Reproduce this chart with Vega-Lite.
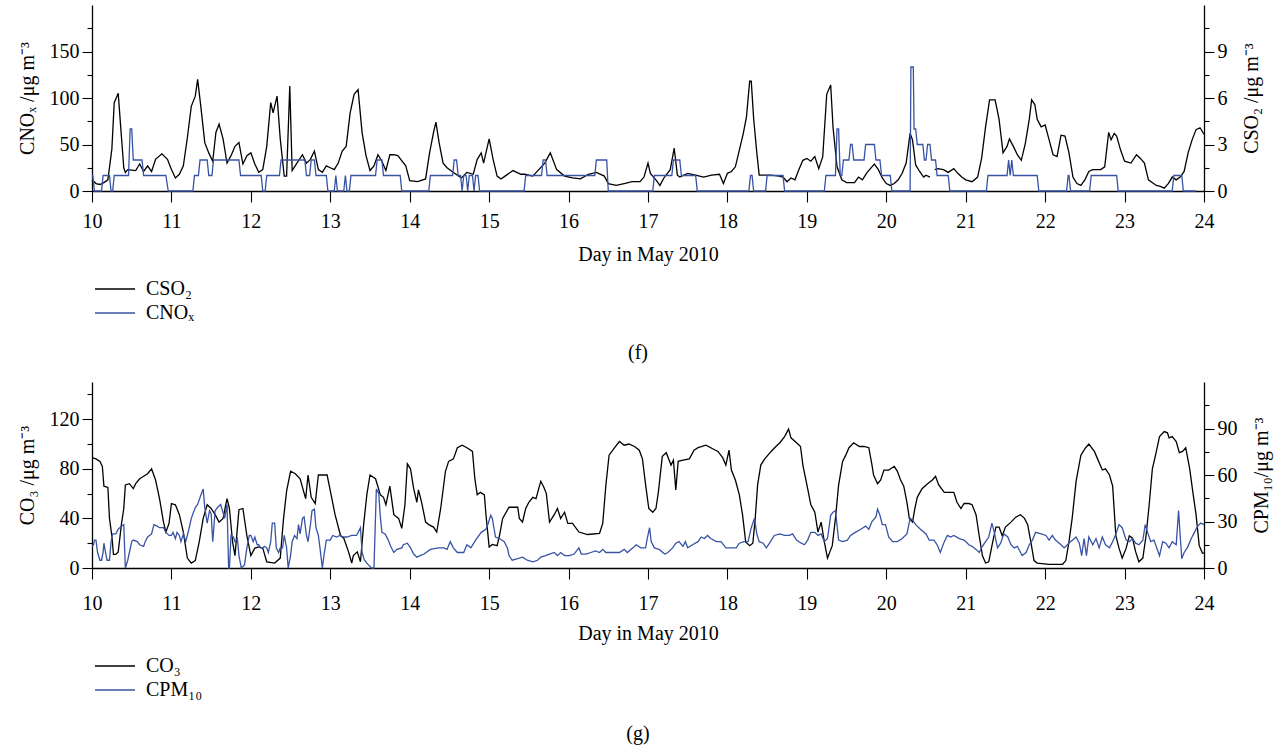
{
"$schema": "https://vega.github.io/schema/vega-lite/v6.json",
"padding": {"left": 17, "top": 5, "right": 5, "bottom": 5},
"background": "white",
"config": {
  "font": "Liberation Serif",
  "view": {"stroke": null},
  "axis": {"labelFont": "Liberation Serif", "labelFontSize": 20, "titleFont": "Liberation Serif", "titleFontSize": 20, "titleFontWeight": "normal", "labelColor": "#000", "titleColor": "#000", "domainColor": "#000", "tickColor": "#000", "grid": false, "domainWidth": 1.3, "tickWidth": 1.1, "labelFlush": false, "labelOverlap": false},
  "legend": {"orient": "none", "legendX": 12, "legendY": 273, "symbolType": "M-2,0L2,0", "symbolSize": 400, "symbolStrokeWidth": 1.3, "labelFont": "Liberation Serif", "labelFontSize": 20, "labelOffset": 20, "rowPadding": 3, "padding": 0, "labelColor": "#000"},
  "title": {"font": "Liberation Serif", "fontSize": 20, "fontWeight": "normal", "color": "#000"}
},
"datasets": {
"so2": [{"d":10,"v":12},{"d":10.05,"v":8},{"d":10.1,"v":7},{"d":10.15,"v":9},{"d":10.2,"v":12},{"d":10.25,"v":45},{"d":10.28,"v":95},{"d":10.33,"v":105},{"d":10.37,"v":59},{"d":10.4,"v":25},{"d":10.42,"v":20},{"d":10.45,"v":23},{"d":10.55,"v":22},{"d":10.6,"v":29},{"d":10.65,"v":21},{"d":10.7,"v":27},{"d":10.75,"v":21},{"d":10.8,"v":34},{"d":10.88,"v":40},{"d":10.95,"v":34},{"d":11,"v":23},{"d":11.05,"v":14},{"d":11.1,"v":18},{"d":11.15,"v":27},{"d":11.2,"v":57},{"d":11.25,"v":91},{"d":11.3,"v":102},{"d":11.33,"v":120},{"d":11.37,"v":91},{"d":11.42,"v":52},{"d":11.47,"v":41},{"d":11.52,"v":32},{"d":11.56,"v":63},{"d":11.6,"v":72},{"d":11.65,"v":56},{"d":11.7,"v":30},{"d":11.75,"v":38},{"d":11.8,"v":48},{"d":11.85,"v":52},{"d":11.9,"v":29},{"d":11.95,"v":38},{"d":12,"v":41},{"d":12.05,"v":29},{"d":12.1,"v":20},{"d":12.15,"v":23},{"d":12.2,"v":48},{"d":12.25,"v":95},{"d":12.28,"v":84},{"d":12.33,"v":102},{"d":12.37,"v":56},{"d":12.42,"v":16},{"d":12.45,"v":16},{"d":12.49,"v":113},{"d":12.52,"v":22},{"d":12.58,"v":30},{"d":12.65,"v":39},{"d":12.7,"v":30},{"d":12.75,"v":34},{"d":12.8,"v":43},{"d":12.85,"v":23},{"d":12.9,"v":20},{"d":12.95,"v":27},{"d":13,"v":25},{"d":13.05,"v":23},{"d":13.1,"v":30},{"d":13.15,"v":43},{"d":13.2,"v":48},{"d":13.25,"v":84},{"d":13.3,"v":104},{"d":13.35,"v":109},{"d":13.4,"v":63},{"d":13.45,"v":38},{"d":13.5,"v":22},{"d":13.55,"v":27},{"d":13.6,"v":39},{"d":13.65,"v":32},{"d":13.7,"v":22},{"d":13.75,"v":39},{"d":13.8,"v":39},{"d":13.85,"v":38},{"d":13.95,"v":27},{"d":14,"v":11},{"d":14.1,"v":10},{"d":14.2,"v":13},{"d":14.25,"v":41},{"d":14.3,"v":63},{"d":14.33,"v":74},{"d":14.37,"v":52},{"d":14.42,"v":30},{"d":14.47,"v":25},{"d":14.55,"v":20},{"d":14.65,"v":14},{"d":14.72,"v":20},{"d":14.8,"v":18},{"d":14.85,"v":34},{"d":14.9,"v":41},{"d":14.93,"v":30},{"d":15,"v":56},{"d":15.05,"v":34},{"d":15.1,"v":16},{"d":15.15,"v":13},{"d":15.2,"v":16},{"d":15.3,"v":22},{"d":15.4,"v":18},{"d":15.45,"v":18},{"d":15.55,"v":16},{"d":15.7,"v":30},{"d":15.77,"v":41},{"d":15.85,"v":23},{"d":15.95,"v":16},{"d":16.05,"v":14},{"d":16.15,"v":13},{"d":16.25,"v":18},{"d":16.35,"v":20},{"d":16.45,"v":16},{"d":16.5,"v":8},{"d":16.6,"v":6},{"d":16.7,"v":8},{"d":16.8,"v":10},{"d":16.9,"v":10},{"d":16.95,"v":15},{"d":17,"v":30},{"d":17.03,"v":19},{"d":17.1,"v":12},{"d":17.15,"v":6},{"d":17.2,"v":14},{"d":17.28,"v":23},{"d":17.33,"v":46},{"d":17.37,"v":17},{"d":17.4,"v":15},{"d":17.5,"v":19},{"d":17.6,"v":17},{"d":17.7,"v":15},{"d":17.8,"v":17},{"d":17.9,"v":18},{"d":17.95,"v":8},{"d":18,"v":19},{"d":18.05,"v":21},{"d":18.1,"v":26},{"d":18.15,"v":44},{"d":18.2,"v":62},{"d":18.24,"v":80},{"d":18.28,"v":118},{"d":18.3,"v":118},{"d":18.33,"v":78},{"d":18.37,"v":41},{"d":18.4,"v":17},{"d":18.55,"v":17},{"d":18.65,"v":16},{"d":18.7,"v":15},{"d":18.75,"v":10},{"d":18.8,"v":14},{"d":18.85,"v":12},{"d":18.9,"v":23},{"d":18.95,"v":33},{"d":19,"v":35},{"d":19.05,"v":32},{"d":19.1,"v":37},{"d":19.15,"v":24},{"d":19.2,"v":37},{"d":19.25,"v":104},{"d":19.3,"v":114},{"d":19.33,"v":68},{"d":19.38,"v":26},{"d":19.44,"v":12},{"d":19.5,"v":9},{"d":19.6,"v":9},{"d":19.65,"v":15},{"d":19.7,"v":12},{"d":19.75,"v":19},{"d":19.8,"v":24},{"d":19.85,"v":29},{"d":19.9,"v":23},{"d":19.95,"v":14},{"d":20,"v":8},{"d":20.05,"v":6},{"d":20.1,"v":8},{"d":20.15,"v":12},{"d":20.2,"v":19},{"d":20.25,"v":30},{"d":20.3,"v":62},{"d":20.33,"v":55},{"d":20.37,"v":28},{"d":20.42,"v":21},{"d":20.47,"v":15},{"d":20.5,"v":17},{"d":20.55,"v":15},{"d":20.58,"v":null},{"d":20.61,"v":23},{"d":20.65,"v":24},{"d":20.72,"v":23},{"d":20.78,"v":20},{"d":20.85,"v":24},{"d":20.9,"v":19},{"d":20.95,"v":15},{"d":21,"v":12},{"d":21.08,"v":10},{"d":21.15,"v":15},{"d":21.2,"v":35},{"d":21.25,"v":69},{"d":21.3,"v":98},{"d":21.37,"v":98},{"d":21.42,"v":77},{"d":21.47,"v":41},{"d":21.52,"v":48},{"d":21.55,"v":56},{"d":21.6,"v":48},{"d":21.65,"v":39},{"d":21.7,"v":33},{"d":21.75,"v":51},{"d":21.8,"v":77},{"d":21.83,"v":98},{"d":21.87,"v":93},{"d":21.9,"v":77},{"d":21.95,"v":69},{"d":22,"v":71},{"d":22.05,"v":55},{"d":22.1,"v":39},{"d":22.15,"v":37},{"d":22.2,"v":60},{"d":22.25,"v":59},{"d":22.3,"v":41},{"d":22.35,"v":15},{"d":22.4,"v":8},{"d":22.45,"v":6},{"d":22.5,"v":12},{"d":22.55,"v":21},{"d":22.6,"v":23},{"d":22.7,"v":23},{"d":22.75,"v":26},{"d":22.8,"v":63},{"d":22.83,"v":55},{"d":22.87,"v":62},{"d":22.9,"v":59},{"d":22.95,"v":44},{"d":23,"v":32},{"d":23.08,"v":30},{"d":23.15,"v":39},{"d":23.2,"v":35},{"d":23.25,"v":30},{"d":23.3,"v":12},{"d":23.4,"v":6},{"d":23.45,"v":5},{"d":23.5,"v":3},{"d":23.55,"v":8},{"d":23.6,"v":15},{"d":23.65,"v":12},{"d":23.7,"v":15},{"d":23.75,"v":21},{"d":23.8,"v":41},{"d":23.85,"v":55},{"d":23.9,"v":66},{"d":23.95,"v":68},{"d":24,"v":61}],
"nox": [{"d":10,"v":1},{"d":10.01,"v":1},{"d":10.03,"v":0},{"d":10.12,"v":0},{"d":10.14,"v":1},{"d":10.22,"v":1},{"d":10.24,"v":0},{"d":10.26,"v":0},{"d":10.28,"v":1},{"d":10.46,"v":1},{"d":10.48,"v":4},{"d":10.5,"v":4},{"d":10.52,"v":2},{"d":10.63,"v":2},{"d":10.65,"v":1},{"d":10.93,"v":1},{"d":10.96,"v":0},{"d":11.27,"v":0},{"d":11.29,"v":1},{"d":11.34,"v":1},{"d":11.36,"v":2},{"d":11.45,"v":2},{"d":11.47,"v":1},{"d":11.51,"v":1},{"d":11.53,"v":2},{"d":11.85,"v":2},{"d":11.87,"v":1},{"d":12.13,"v":1},{"d":12.15,"v":0},{"d":12.18,"v":0},{"d":12.2,"v":1},{"d":12.36,"v":1},{"d":12.38,"v":2},{"d":12.68,"v":2},{"d":12.7,"v":1},{"d":12.74,"v":1},{"d":12.76,"v":2},{"d":12.8,"v":2},{"d":12.82,"v":1},{"d":12.95,"v":1},{"d":12.97,"v":0},{"d":13.05,"v":0},{"d":13.07,"v":1},{"d":13.09,"v":0},{"d":13.17,"v":0},{"d":13.19,"v":1},{"d":13.21,"v":0},{"d":13.24,"v":0},{"d":13.26,"v":1},{"d":13.57,"v":1},{"d":13.59,"v":2},{"d":13.65,"v":2},{"d":13.67,"v":1},{"d":13.88,"v":1},{"d":13.9,"v":0},{"d":14.24,"v":0},{"d":14.26,"v":1},{"d":14.54,"v":1},{"d":14.56,"v":2},{"d":14.59,"v":2},{"d":14.61,"v":1},{"d":14.64,"v":1},{"d":14.66,"v":0},{"d":14.68,"v":1},{"d":14.71,"v":1},{"d":14.73,"v":0},{"d":14.75,"v":1},{"d":14.79,"v":1},{"d":14.81,"v":0},{"d":14.83,"v":1},{"d":14.86,"v":1},{"d":14.88,"v":0},{"d":15.44,"v":0},{"d":15.46,"v":1},{"d":15.66,"v":1},{"d":15.68,"v":2},{"d":15.71,"v":2},{"d":15.73,"v":1},{"d":16.33,"v":1},{"d":16.35,"v":2},{"d":16.48,"v":2},{"d":16.5,"v":0},{"d":17.06,"v":0},{"d":17.08,"v":1},{"d":17.3,"v":1},{"d":17.32,"v":2},{"d":17.4,"v":2},{"d":17.42,"v":1},{"d":17.6,"v":1},{"d":17.62,"v":0},{"d":18.27,"v":0},{"d":18.29,"v":1},{"d":18.31,"v":1},{"d":18.33,"v":0},{"d":18.48,"v":0},{"d":18.5,"v":1},{"d":18.7,"v":1},{"d":18.72,"v":0},{"d":19.22,"v":0},{"d":19.24,"v":1},{"d":19.36,"v":1},{"d":19.38,"v":4},{"d":19.4,"v":4},{"d":19.42,"v":1},{"d":19.44,"v":1},{"d":19.46,"v":2},{"d":19.53,"v":2},{"d":19.55,"v":3},{"d":19.57,"v":3},{"d":19.59,"v":2},{"d":19.72,"v":2},{"d":19.74,"v":3},{"d":19.85,"v":3},{"d":19.87,"v":2},{"d":19.92,"v":2},{"d":19.94,"v":1},{"d":20.05,"v":1},{"d":20.07,"v":0},{"d":20.3,"v":0},{"d":20.31,"v":8},{"d":20.34,"v":8},{"d":20.35,"v":4},{"d":20.37,"v":4},{"d":20.39,"v":3},{"d":20.46,"v":3},{"d":20.48,"v":2},{"d":20.5,"v":2},{"d":20.52,"v":3},{"d":20.55,"v":3},{"d":20.57,"v":2},{"d":20.62,"v":2},{"d":20.64,"v":1},{"d":20.78,"v":1},{"d":20.8,"v":0},{"d":21.26,"v":0},{"d":21.28,"v":1},{"d":21.52,"v":1},{"d":21.54,"v":2},{"d":21.56,"v":1},{"d":21.58,"v":2},{"d":21.6,"v":1},{"d":21.9,"v":1},{"d":21.92,"v":0},{"d":22.27,"v":0},{"d":22.29,"v":1},{"d":22.3,"v":1},{"d":22.32,"v":0},{"d":22.56,"v":0},{"d":22.58,"v":1},{"d":22.9,"v":1},{"d":22.92,"v":0},{"d":23.6,"v":0},{"d":23.62,"v":1},{"d":23.72,"v":1},{"d":23.74,"v":0},{"d":23.9,"v":0}],
"o3": [{"d":10,"v":89},{"d":10.05,"v":88},{"d":10.1,"v":86},{"d":10.13,"v":82},{"d":10.15,"v":66},{"d":10.2,"v":65},{"d":10.22,"v":40},{"d":10.25,"v":26},{"d":10.27,"v":11},{"d":10.3,"v":11},{"d":10.33,"v":13},{"d":10.37,"v":35},{"d":10.4,"v":48},{"d":10.42,"v":67},{"d":10.47,"v":68},{"d":10.52,"v":64},{"d":10.55,"v":68},{"d":10.6,"v":72},{"d":10.65,"v":74},{"d":10.7,"v":76},{"d":10.75,"v":80},{"d":10.8,"v":71},{"d":10.85,"v":56},{"d":10.9,"v":37},{"d":10.93,"v":29},{"d":10.97,"v":36},{"d":11,"v":52},{"d":11.05,"v":51},{"d":11.1,"v":43},{"d":11.15,"v":29},{"d":11.2,"v":8},{"d":11.25,"v":4},{"d":11.3,"v":6},{"d":11.35,"v":21},{"d":11.4,"v":40},{"d":11.45,"v":51},{"d":11.5,"v":48},{"d":11.55,"v":43},{"d":11.6,"v":37},{"d":11.65,"v":40},{"d":11.7,"v":56},{"d":11.73,"v":48},{"d":11.77,"v":21},{"d":11.8,"v":10},{"d":11.83,"v":32},{"d":11.85,"v":47},{"d":11.9,"v":48},{"d":11.95,"v":26},{"d":12,"v":10},{"d":12.05,"v":16},{"d":12.1,"v":17},{"d":12.15,"v":16},{"d":12.2,"v":5},{"d":12.3,"v":4},{"d":12.37,"v":8},{"d":12.41,"v":39},{"d":12.45,"v":62},{"d":12.5,"v":78},{"d":12.56,"v":76},{"d":12.62,"v":72},{"d":12.69,"v":56},{"d":12.72,"v":75},{"d":12.76,"v":57},{"d":12.81,"v":52},{"d":12.85,"v":75},{"d":12.96,"v":75},{"d":13.02,"v":56},{"d":13.06,"v":43},{"d":13.13,"v":26},{"d":13.17,"v":24},{"d":13.23,"v":13},{"d":13.27,"v":4},{"d":13.29,"v":10},{"d":13.34,"v":13},{"d":13.38,"v":5},{"d":13.42,"v":35},{"d":13.46,"v":59},{"d":13.5,"v":75},{"d":13.57,"v":72},{"d":13.63,"v":59},{"d":13.67,"v":57},{"d":13.7,"v":51},{"d":13.75,"v":66},{"d":13.8,"v":43},{"d":13.86,"v":40},{"d":13.9,"v":32},{"d":13.94,"v":51},{"d":13.97,"v":84},{"d":14.01,"v":80},{"d":14.05,"v":64},{"d":14.09,"v":53},{"d":14.11,"v":63},{"d":14.15,"v":53},{"d":14.2,"v":37},{"d":14.24,"v":35},{"d":14.3,"v":33},{"d":14.34,"v":29},{"d":14.39,"v":48},{"d":14.45,"v":78},{"d":14.49,"v":86},{"d":14.55,"v":88},{"d":14.6,"v":97},{"d":14.66,"v":99},{"d":14.72,"v":97},{"d":14.79,"v":94},{"d":14.82,"v":72},{"d":14.85,"v":59},{"d":14.89,"v":61},{"d":14.94,"v":59},{"d":14.96,"v":43},{"d":15,"v":17},{"d":15.04,"v":19},{"d":15.1,"v":18},{"d":15.13,"v":26},{"d":15.17,"v":40},{"d":15.25,"v":49},{"d":15.36,"v":49},{"d":15.38,"v":40},{"d":15.42,"v":37},{"d":15.46,"v":48},{"d":15.5,"v":53},{"d":15.55,"v":57},{"d":15.59,"v":56},{"d":15.65,"v":70},{"d":15.69,"v":65},{"d":15.72,"v":60},{"d":15.76,"v":37},{"d":15.82,"v":43},{"d":15.86,"v":48},{"d":15.9,"v":40},{"d":15.95,"v":45},{"d":15.99,"v":36},{"d":16.05,"v":36},{"d":16.13,"v":29},{"d":16.24,"v":27},{"d":16.39,"v":28},{"d":16.43,"v":36},{"d":16.47,"v":67},{"d":16.51,"v":91},{"d":16.58,"v":97},{"d":16.64,"v":102},{"d":16.7,"v":99},{"d":16.76,"v":100},{"d":16.83,"v":98},{"d":16.89,"v":95},{"d":16.93,"v":88},{"d":16.97,"v":67},{"d":17.01,"v":48},{"d":17.06,"v":45},{"d":17.1,"v":48},{"d":17.13,"v":61},{"d":17.18,"v":90},{"d":17.23,"v":93},{"d":17.29,"v":83},{"d":17.32,"v":87},{"d":17.35,"v":63},{"d":17.38,"v":86},{"d":17.44,"v":87},{"d":17.52,"v":88},{"d":17.58,"v":95},{"d":17.63,"v":97},{"d":17.73,"v":99},{"d":17.82,"v":96},{"d":17.88,"v":94},{"d":17.94,"v":89},{"d":17.98,"v":83},{"d":18.02,"v":95},{"d":18.05,"v":79},{"d":18.1,"v":71},{"d":18.15,"v":59},{"d":18.19,"v":43},{"d":18.23,"v":21},{"d":18.28,"v":18},{"d":18.32,"v":20},{"d":18.35,"v":40},{"d":18.38,"v":67},{"d":18.42,"v":83},{"d":18.47,"v":88},{"d":18.55,"v":94},{"d":18.61,"v":98},{"d":18.66,"v":101},{"d":18.72,"v":106},{"d":18.77,"v":112},{"d":18.8,"v":105},{"d":18.87,"v":101},{"d":18.92,"v":98},{"d":18.95,"v":83},{"d":19.01,"v":64},{"d":19.05,"v":51},{"d":19.1,"v":45},{"d":19.14,"v":29},{"d":19.18,"v":37},{"d":19.22,"v":21},{"d":19.26,"v":8},{"d":19.29,"v":13},{"d":19.32,"v":18},{"d":19.36,"v":40},{"d":19.4,"v":67},{"d":19.45,"v":86},{"d":19.49,"v":91},{"d":19.53,"v":97},{"d":19.59,"v":101},{"d":19.66,"v":98},{"d":19.72,"v":98},{"d":19.78,"v":97},{"d":19.82,"v":83},{"d":19.84,"v":75},{"d":19.89,"v":68},{"d":19.93,"v":71},{"d":19.97,"v":79},{"d":20.03,"v":79},{"d":20.1,"v":82},{"d":20.14,"v":78},{"d":20.18,"v":71},{"d":20.22,"v":66},{"d":20.26,"v":53},{"d":20.29,"v":40},{"d":20.33,"v":37},{"d":20.36,"v":48},{"d":20.39,"v":57},{"d":20.45,"v":64},{"d":20.52,"v":68},{"d":20.58,"v":71},{"d":20.62,"v":74},{"d":20.66,"v":67},{"d":20.73,"v":61},{"d":20.85,"v":61},{"d":20.89,"v":53},{"d":20.94,"v":48},{"d":20.98,"v":52},{"d":21.04,"v":52},{"d":21.08,"v":51},{"d":21.13,"v":43},{"d":21.17,"v":26},{"d":21.21,"v":10},{"d":21.25,"v":4},{"d":21.29,"v":5},{"d":21.34,"v":21},{"d":21.38,"v":33},{"d":21.42,"v":33},{"d":21.46,"v":26},{"d":21.5,"v":33},{"d":21.57,"v":37},{"d":21.63,"v":41},{"d":21.69,"v":43},{"d":21.74,"v":40},{"d":21.78,"v":35},{"d":21.82,"v":21},{"d":21.86,"v":6},{"d":21.9,"v":4},{"d":22.05,"v":3},{"d":22.22,"v":3},{"d":22.26,"v":6},{"d":22.3,"v":21},{"d":22.34,"v":40},{"d":22.39,"v":70},{"d":22.45,"v":91},{"d":22.51,"v":97},{"d":22.55,"v":100},{"d":22.62,"v":94},{"d":22.66,"v":88},{"d":22.72,"v":79},{"d":22.76,"v":80},{"d":22.81,"v":75},{"d":22.85,"v":66},{"d":22.89,"v":26},{"d":22.93,"v":16},{"d":22.97,"v":8},{"d":23.02,"v":16},{"d":23.06,"v":26},{"d":23.1,"v":24},{"d":23.14,"v":13},{"d":23.18,"v":5},{"d":23.23,"v":8},{"d":23.27,"v":26},{"d":23.31,"v":51},{"d":23.35,"v":80},{"d":23.39,"v":91},{"d":23.44,"v":106},{"d":23.5,"v":110},{"d":23.54,"v":109},{"d":23.56,"v":105},{"d":23.6,"v":106},{"d":23.65,"v":102},{"d":23.69,"v":93},{"d":23.73,"v":94},{"d":23.77,"v":97},{"d":23.82,"v":80},{"d":23.86,"v":61},{"d":23.9,"v":43},{"d":23.94,"v":18},{"d":23.98,"v":12},{"d":24,"v":12}],
"pm10": [{"d":10,"v":14},{"d":10.02,"v":15},{"d":10.03,"v":18},{"d":10.05,"v":18},{"d":10.07,"v":10},{"d":10.1,"v":5},{"d":10.12,"v":5},{"d":10.14,"v":10},{"d":10.15,"v":16},{"d":10.17,"v":10},{"d":10.19,"v":5},{"d":10.22,"v":5},{"d":10.24,"v":17},{"d":10.26,"v":22},{"d":10.3,"v":22},{"d":10.33,"v":25},{"d":10.37,"v":27},{"d":10.4,"v":28},{"d":10.42,"v":0},{"d":10.45,"v":5},{"d":10.5,"v":17},{"d":10.52,"v":18},{"d":10.57,"v":17},{"d":10.6,"v":15},{"d":10.65,"v":14},{"d":10.67,"v":17},{"d":10.7,"v":20},{"d":10.75,"v":22},{"d":10.78,"v":28},{"d":10.82,"v":27},{"d":10.85,"v":26},{"d":10.9,"v":26},{"d":10.93,"v":23},{"d":10.95,"v":22},{"d":10.97,"v":21},{"d":11,"v":21},{"d":11.02,"v":23},{"d":11.05,"v":19},{"d":11.07,"v":23},{"d":11.1,"v":21},{"d":11.12,"v":17},{"d":11.15,"v":22},{"d":11.18,"v":17},{"d":11.22,"v":25},{"d":11.25,"v":32},{"d":11.3,"v":39},{"d":11.33,"v":41},{"d":11.37,"v":47},{"d":11.4,"v":51},{"d":11.42,"v":39},{"d":11.45,"v":29},{"d":11.48,"v":37},{"d":11.5,"v":35},{"d":11.52,"v":17},{"d":11.55,"v":37},{"d":11.58,"v":39},{"d":11.62,"v":41},{"d":11.67,"v":32},{"d":11.7,"v":41},{"d":11.72,"v":0},{"d":11.73,"v":0},{"d":11.75,"v":21},{"d":11.78,"v":20},{"d":11.8,"v":17},{"d":11.83,"v":19},{"d":11.85,"v":8},{"d":11.88,"v":0},{"d":11.92,"v":2},{"d":11.95,"v":13},{"d":11.98,"v":21},{"d":12,"v":21},{"d":12.03,"v":17},{"d":12.05,"v":20},{"d":12.08,"v":15},{"d":12.1,"v":15},{"d":12.12,"v":13},{"d":12.15,"v":13},{"d":12.17,"v":14},{"d":12.2,"v":13},{"d":12.22,"v":10},{"d":12.25,"v":17},{"d":12.27,"v":29},{"d":12.3,"v":29},{"d":12.32,"v":13},{"d":12.35,"v":10},{"d":12.37,"v":13},{"d":12.4,"v":13},{"d":12.42,"v":21},{"d":12.45,"v":13},{"d":12.47,"v":0},{"d":12.5,"v":8},{"d":12.52,"v":17},{"d":12.55,"v":21},{"d":12.58,"v":19},{"d":12.6,"v":28},{"d":12.62,"v":22},{"d":12.65,"v":32},{"d":12.67,"v":33},{"d":12.7,"v":21},{"d":12.72,"v":17},{"d":12.75,"v":28},{"d":12.77,"v":37},{"d":12.8,"v":38},{"d":12.82,"v":26},{"d":12.85,"v":21},{"d":12.87,"v":13},{"d":12.9,"v":0},{"d":12.92,"v":8},{"d":12.95,"v":18},{"d":13,"v":18},{"d":13.03,"v":21},{"d":13.08,"v":20},{"d":13.12,"v":21},{"d":13.17,"v":20},{"d":13.21,"v":20},{"d":13.27,"v":21},{"d":13.33,"v":21},{"d":13.38,"v":26},{"d":13.4,"v":10},{"d":13.43,"v":5},{"d":13.48,"v":2},{"d":13.52,"v":0},{"d":13.55,"v":0},{"d":13.58,"v":51},{"d":13.61,"v":48},{"d":13.63,"v":33},{"d":13.65,"v":23},{"d":13.69,"v":22},{"d":13.73,"v":18},{"d":13.76,"v":14},{"d":13.8,"v":10},{"d":13.84,"v":12},{"d":13.9,"v":13},{"d":13.92,"v":15},{"d":13.97,"v":16},{"d":14.01,"v":13},{"d":14.05,"v":9},{"d":14.09,"v":7},{"d":14.13,"v":8},{"d":14.18,"v":9},{"d":14.26,"v":12},{"d":14.36,"v":13},{"d":14.43,"v":13},{"d":14.47,"v":12},{"d":14.51,"v":17},{"d":14.55,"v":13},{"d":14.6,"v":10},{"d":14.68,"v":10},{"d":14.72,"v":15},{"d":14.77,"v":13},{"d":14.83,"v":18},{"d":14.9,"v":23},{"d":14.96,"v":25},{"d":14.99,"v":29},{"d":15.02,"v":34},{"d":15.04,"v":32},{"d":15.08,"v":20},{"d":15.13,"v":19},{"d":15.19,"v":17},{"d":15.23,"v":13},{"d":15.25,"v":8},{"d":15.29,"v":5},{"d":15.36,"v":6},{"d":15.42,"v":7},{"d":15.48,"v":5},{"d":15.55,"v":4},{"d":15.61,"v":5},{"d":15.65,"v":7},{"d":15.71,"v":8},{"d":15.76,"v":9},{"d":15.82,"v":10},{"d":15.86,"v":8},{"d":15.9,"v":10},{"d":15.95,"v":8},{"d":16.01,"v":8},{"d":16.07,"v":9},{"d":16.13,"v":13},{"d":16.16,"v":9},{"d":16.22,"v":9},{"d":16.28,"v":10},{"d":16.34,"v":11},{"d":16.39,"v":10},{"d":16.43,"v":12},{"d":16.47,"v":10},{"d":16.58,"v":10},{"d":16.64,"v":10},{"d":16.7,"v":12},{"d":16.74,"v":10},{"d":16.81,"v":13},{"d":16.85,"v":15},{"d":16.91,"v":13},{"d":16.97,"v":13},{"d":16.99,"v":19},{"d":17.02,"v":26},{"d":17.04,"v":17},{"d":17.08,"v":13},{"d":17.14,"v":12},{"d":17.21,"v":9},{"d":17.25,"v":10},{"d":17.31,"v":13},{"d":17.35,"v":16},{"d":17.39,"v":17},{"d":17.44,"v":14},{"d":17.47,"v":17},{"d":17.5,"v":13},{"d":17.56,"v":15},{"d":17.63,"v":17},{"d":17.67,"v":20},{"d":17.71,"v":19},{"d":17.75,"v":21},{"d":17.79,"v":19},{"d":17.86,"v":17},{"d":17.92,"v":17},{"d":17.98,"v":13},{"d":18.05,"v":13},{"d":18.11,"v":13},{"d":18.15,"v":16},{"d":18.21,"v":17},{"d":18.26,"v":17},{"d":18.3,"v":26},{"d":18.34,"v":32},{"d":18.37,"v":22},{"d":18.4,"v":17},{"d":18.45,"v":16},{"d":18.49,"v":13},{"d":18.53,"v":16},{"d":18.59,"v":21},{"d":18.66,"v":22},{"d":18.72,"v":21},{"d":18.78,"v":21},{"d":18.82,"v":22},{"d":18.87,"v":18},{"d":18.93,"v":16},{"d":18.97,"v":15},{"d":19.01,"v":18},{"d":19.05,"v":23},{"d":19.1,"v":23},{"d":19.14,"v":21},{"d":19.18,"v":22},{"d":19.22,"v":17},{"d":19.26,"v":19},{"d":19.3,"v":34},{"d":19.33,"v":36},{"d":19.36,"v":37},{"d":19.4,"v":18},{"d":19.45,"v":17},{"d":19.51,"v":18},{"d":19.55,"v":21},{"d":19.61,"v":23},{"d":19.68,"v":25},{"d":19.74,"v":27},{"d":19.78,"v":25},{"d":19.82,"v":30},{"d":19.87,"v":33},{"d":19.89,"v":38},{"d":19.92,"v":34},{"d":19.95,"v":28},{"d":19.99,"v":28},{"d":20.03,"v":20},{"d":20.08,"v":17},{"d":20.14,"v":17},{"d":20.2,"v":19},{"d":20.26,"v":22},{"d":20.3,"v":32},{"d":20.33,"v":31},{"d":20.37,"v":28},{"d":20.43,"v":25},{"d":20.5,"v":22},{"d":20.54,"v":18},{"d":20.6,"v":18},{"d":20.64,"v":15},{"d":20.68,"v":10},{"d":20.73,"v":17},{"d":20.77,"v":21},{"d":20.81,"v":20},{"d":20.85,"v":21},{"d":20.92,"v":19},{"d":20.98,"v":18},{"d":21.04,"v":15},{"d":21.08,"v":14},{"d":21.13,"v":12},{"d":21.17,"v":10},{"d":21.21,"v":14},{"d":21.25,"v":17},{"d":21.29,"v":20},{"d":21.33,"v":29},{"d":21.36,"v":23},{"d":21.4,"v":13},{"d":21.44,"v":16},{"d":21.48,"v":22},{"d":21.53,"v":20},{"d":21.57,"v":15},{"d":21.61,"v":13},{"d":21.65,"v":14},{"d":21.71,"v":8},{"d":21.76,"v":10},{"d":21.8,"v":15},{"d":21.84,"v":18},{"d":21.88,"v":23},{"d":21.95,"v":22},{"d":22.01,"v":21},{"d":22.05,"v":18},{"d":22.09,"v":21},{"d":22.13,"v":18},{"d":22.2,"v":15},{"d":22.24,"v":13},{"d":22.28,"v":15},{"d":22.32,"v":17},{"d":22.39,"v":20},{"d":22.43,"v":16},{"d":22.46,"v":8},{"d":22.49,"v":19},{"d":22.52,"v":8},{"d":22.55,"v":20},{"d":22.6,"v":15},{"d":22.64,"v":19},{"d":22.68,"v":13},{"d":22.72,"v":20},{"d":22.76,"v":15},{"d":22.81,"v":13},{"d":22.85,"v":17},{"d":22.89,"v":22},{"d":22.93,"v":28},{"d":22.97,"v":26},{"d":23.02,"v":18},{"d":23.06,"v":17},{"d":23.1,"v":19},{"d":23.14,"v":16},{"d":23.18,"v":15},{"d":23.23,"v":18},{"d":23.26,"v":28},{"d":23.29,"v":23},{"d":23.33,"v":17},{"d":23.37,"v":18},{"d":23.44,"v":8},{"d":23.48,"v":17},{"d":23.52,"v":16},{"d":23.56,"v":13},{"d":23.6,"v":17},{"d":23.65,"v":15},{"d":23.68,"v":37},{"d":23.7,"v":21},{"d":23.72,"v":6},{"d":23.75,"v":10},{"d":23.79,"v":13},{"d":23.84,"v":19},{"d":23.88,"v":23},{"d":23.92,"v":27},{"d":23.96,"v":29},{"d":24,"v":28}]
},
"spacing": 19,
"resolve": {"scale": {"color": "independent", "x": "independent", "y": "independent"}, "legend": {"color": "independent"}},
"vconcat": [
 {
  "width": 1112, "height": 186,
  "title": {"text": "(f)", "orient": "bottom", "anchor": "middle", "offset": 20, "dx": -10},
  "layer": [
   {"data": {"name": "so2"},
    "mark": {"type": "line", "strokeWidth": 1.3, "invalid": "break-paths-filter-domains"},
    "encoding": {
     "x": {"field": "d", "type": "quantitative", "scale": {"domain": [10, 24], "nice": false},
       "axis": {"title": "Day in May 2010", "values": [10,10.5,11,11.5,12,12.5,13,13.5,14,14.5,15,15.5,16,16.5,17,17.5,18,18.5,19,19.5,20,20.5,21,21.5,22,22.5,23,23.5,24], "format": "d", "labelExpr": "datum.value % 1 === 0 ? datum.label : ''", "tickSize": {"condition": {"test": "datum.value % 1 === 0", "value": 11}, "value": 5}, "labelPadding": 9, "titlePadding": 13}},
     "y": {"field": "v", "type": "quantitative", "scale": {"domain": [0, 200], "nice": false},
       "axis": {"orient": "left", "title": "CNOₓ /μg m⁻³", "values": [0,25,50,75,100,125,150,175], "labelExpr": "datum.value % 50 === 0 ? datum.label : ''", "tickSize": {"condition": {"test": "datum.value % 50 === 0", "value": 10}, "value": 5}, "labelPadding": 3, "titlePadding": 12}},
     "color": {"datum": "CSO₂", "type": "nominal", "scale": {"domain": ["CSO₂", "CNOₓ"], "range": ["#000000", "#3953a4"]}, "legend": {"title": null}}
    }},
   {"data": {"name": "nox"},
    "mark": {"type": "line", "strokeWidth": 1.3},
    "encoding": {
     "x": {"field": "d", "type": "quantitative"},
     "y": {"field": "v", "type": "quantitative", "scale": {"domain": [0, 12], "nice": false},
       "axis": {"orient": "right", "title": "CSO₂ /μg m⁻³", "titleAngle": 270, "titleBaseline": "top", "values": [0,1.5,3,4.5,6,7.5,9,10.5], "format": "d", "labelExpr": "datum.value % 3 === 0 ? datum.label : ''", "tickSize": {"condition": {"test": "datum.value % 3 === 0", "value": 10}, "value": 5}, "labelPadding": 3, "titlePadding": 14}},
     "color": {"datum": "CNOₓ", "type": "nominal"}
    }}
  ],
  "resolve": {"scale": {"y": "independent"}}
 },
 {
  "width": 1112, "height": 186,
  "title": {"text": "(g)", "orient": "bottom", "anchor": "middle", "offset": 24, "dx": -10},
  "layer": [
   {"data": {"name": "o3"},
    "mark": {"type": "line", "strokeWidth": 1.3},
    "encoding": {
     "x": {"field": "d", "type": "quantitative", "scale": {"domain": [10, 24], "nice": false},
       "axis": {"title": "Day in May 2010", "values": [10,10.5,11,11.5,12,12.5,13,13.5,14,14.5,15,15.5,16,16.5,17,17.5,18,18.5,19,19.5,20,20.5,21,21.5,22,22.5,23,23.5,24], "format": "d", "labelExpr": "datum.value % 1 === 0 ? datum.label : ''", "tickSize": {"condition": {"test": "datum.value % 1 === 0", "value": 11}, "value": 5}, "labelPadding": 14, "titlePadding": 10}},
     "y": {"field": "v", "type": "quantitative", "scale": {"domain": [0, 150], "nice": false},
       "axis": {"orient": "left", "title": "CO₃ /μg m⁻³", "values": [0,20,40,60,80,100,120,140], "labelExpr": "datum.value % 40 === 0 ? datum.label : ''", "tickSize": {"condition": {"test": "datum.value % 40 === 0", "value": 10}, "value": 5}, "labelPadding": 3, "titlePadding": 12}},
     "color": {"datum": "CO₃", "type": "nominal", "scale": {"domain": ["CO₃", "CPM₁₀"], "range": ["#000000", "#3953a4"]}, "legend": {"title": null}}
    }},
   {"data": {"name": "pm10"},
    "mark": {"type": "line", "strokeWidth": 1.3},
    "encoding": {
     "x": {"field": "d", "type": "quantitative"},
     "y": {"field": "v", "type": "quantitative", "scale": {"domain": [0, 120], "nice": false},
       "axis": {"orient": "right", "title": "CPM₁₀/μg m⁻³", "titleAngle": 270, "titleBaseline": "top", "values": [0,15,30,45,60,75,90,105], "labelExpr": "datum.value % 30 === 0 ? datum.label : ''", "tickSize": {"condition": {"test": "datum.value % 30 === 0", "value": 10}, "value": 5}, "labelPadding": 3, "titlePadding": 14}},
     "color": {"datum": "CPM₁₀", "type": "nominal"}
    }}
  ],
  "resolve": {"scale": {"y": "independent"}}
 }
]
}
